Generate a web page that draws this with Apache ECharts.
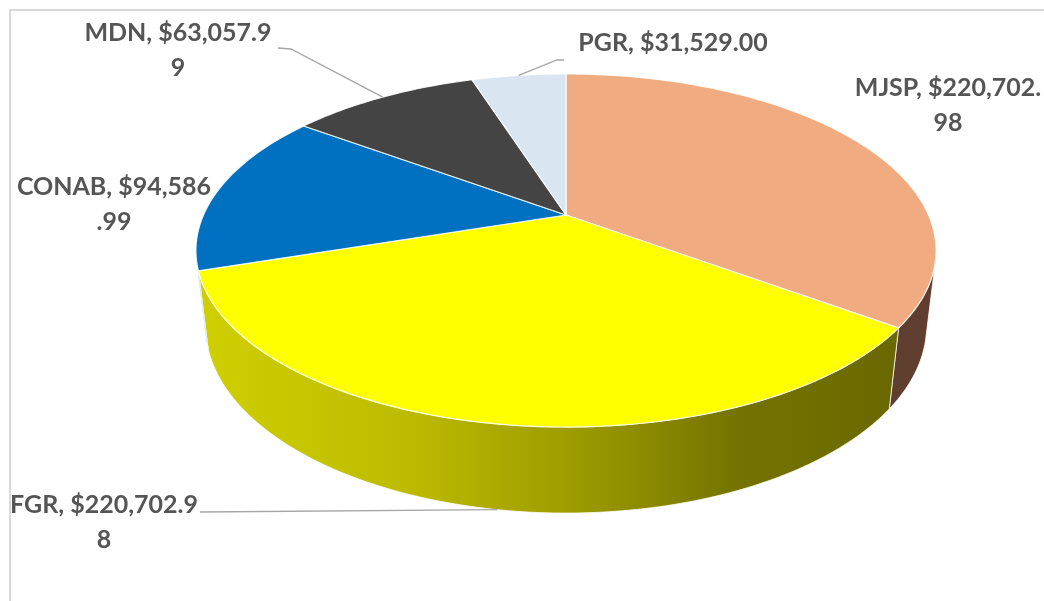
<!DOCTYPE html>
<html>
<head>
<meta charset="utf-8">
<script src="https://cdn.jsdelivr.net/npm/echarts@6/dist/echarts.min.js"></script>
<style>
  html, body { margin: 0; padding: 0; background: #ffffff; }
  #pie { width: 1044px; height: 601px; }
</style>
</head>
<body>
<div id="pie"></div>
<script>
// data
var names = ['MJSP', 'FGR', 'CONAB', 'MDN', 'PGR'];
var values = [220702.98, 220702.98, 94586.99, 63057.99, 31529.00];

// styles
var topColors = ['#F0AC80', '#FFFF00', '#0070C0', '#444444', '#DAE5F2'];
var sideColors = [
  '#5F3E30',
  new echarts.graphic.LinearGradient(200, 0, 890, 0, [
    { offset: 0, color: '#CFCF00' },
    { offset: 0.3, color: '#BDBB00' },
    { offset: 0.55, color: '#9C9A00' },
    { offset: 0.78, color: '#747300' },
    { offset: 1, color: '#6A6900' }
  ], true),
  '#00508C',
  '#2A2A2A',
  '#8E99A6'
];

// label layout (first line centre), wrap position, leader points near the label
var labelPos = [[948, 88], [104, 505], [114, 187], [178, 33], [673, 43]];
var labelBreak = [15, 15, 14, 14, 0];
var leaderPts = [null, [[200, 512]], null, [[278, 48], [291, 49]], [[564, 60], [557, 60]]];

// 3d pie camera (perspective)
var CX = 566, CY = 215, S = 362.5;
var SIN_A = 0.4673, COS_A = 0.8841, K = 0.2011, H = 0.238;
var D = COS_A / K;
// side wall silhouette angle
var SIL = Math.acos(-1 / (D * COS_A)) * 180 / Math.PI;

function project(deg, y) {
  var t = deg * Math.PI / 180;
  var x = Math.sin(t), z = -Math.cos(t);
  var depth = (D - y * SIN_A - z * COS_A) / D;
  return [CX + S * x / depth, CY - S * (y * COS_A - z * SIN_A) / depth];
}

function arc(a0, a1, y) {
  var pts = [];
  var n = Math.max(2, Math.ceil((a1 - a0) / 1));
  for (var s = 0; s <= n; s++) pts.push(project(a0 + (a1 - a0) * s / n, y));
  return pts;
}

function fmt(v) {
  return '$' + v.toLocaleString('en-US', { minimumFractionDigits: 2, maximumFractionDigits: 2 });
}

var total = values.reduce(function (a, b) { return a + b; }, 0);

function renderItem(params, api) {
  var i = params.dataIndex;
  var before = 0;
  for (var j = 0; j < i; j++) before += values[j];
  var a0 = before / total * 360;
  var a1 = (before + api.value(0)) / total * 360;
  var children = [];

  // side wall (visible front part only)
  var s0 = Math.max(a0, SIL), s1 = Math.min(a1, 360 - SIL);
  if (s1 > s0) {
    var sidePts = arc(s0, s1, 0).concat(arc(s0, s1, -H).reverse());
    children.push({
      type: 'polygon', z2: 1,
      shape: { points: sidePts },
      style: { fill: sideColors[i], stroke: 'rgba(255,255,255,0.75)', lineWidth: 1 }
    });
  }

  // top face
  var topPts = [[CX, CY]].concat(arc(a0, a1, 0));
  children.push({
    type: 'polygon', z2: 2,
    shape: { points: topPts },
    style: { fill: topColors[i], stroke: 'rgba(255,255,255,0.85)', lineWidth: 1.2 }
  });

  // leader line
  if (leaderPts[i]) {
    var mid = (a0 + a1) / 2;
    var anchor = project(mid, (mid > 90 && mid < 270) ? -H : 0);
    children.push({
      type: 'polyline', z2: 3,
      shape: { points: leaderPts[i].concat([anchor]) },
      style: { stroke: '#A6A6A6', lineWidth: 1.3, fill: null }
    });
  }

  // label
  var txt = names[i] + ', ' + fmt(api.value(0));
  if (labelBreak[i]) txt = txt.slice(0, labelBreak[i]) + '\n' + txt.slice(labelBreak[i]);
  children.push({
    type: 'text', z2: 4,
    style: {
      text: txt,
      x: labelPos[i][0],
      y: labelPos[i][1] - 17.5,
      align: 'center',
      verticalAlign: 'top',
      lineHeight: 35,
      fill: '#555555',
      font: 'bold 25px Lato'
    }
  });

  return { type: 'group', children: children };
}

var chart = echarts.init(document.getElementById('pie'));
chart.setOption({
  backgroundColor: '#ffffff',
  animation: false,
  graphic: [
    { type: 'line', shape: { x1: 9, y1: 10, x2: 1044, y2: 10 }, style: { stroke: '#D9D9D9', lineWidth: 2 } },
    { type: 'line', shape: { x1: 10, y1: 10, x2: 10, y2: 601 }, style: { stroke: '#D9D9D9', lineWidth: 2 } }
  ],
  series: [
    {
      type: 'custom',
      coordinateSystem: 'none',
      renderItem: renderItem,
      data: names.map(function (n, i) { return { name: n, value: values[i] }; })
    }
  ]
});
</script>
</body>
</html>
